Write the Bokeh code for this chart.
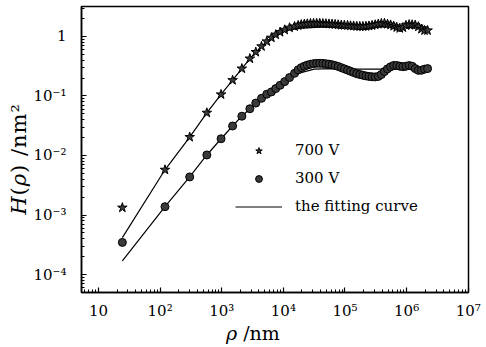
import math
from bokeh.plotting import figure
from bokeh.layouts import row, column
from bokeh.models import (Range1d, FixedTicker, CustomJSTickFormatter, Legend,
                          LegendItem, Div)
from bokeh.embed import file_html
from bokeh.resources import INLINE

# ---------------- data ----------------
rho = [24.4, 120, 302, 573, 975, 1500, 2120, 2860, 3570, 4420, 5380, 6400,
       7520, 8850, 10500, 12600, 15200,
       17400, 19500, 21900, 24500, 27500, 30900, 34700, 38900, 43700, 49000,
       55000, 61700, 69200, 77600, 87100, 97700, 110000, 123000, 138000,
       155000, 174000, 195000, 219000, 245000, 275000, 309000, 347000, 389000,
       437000, 490000, 550000, 617000, 692000, 776000, 871000, 977000,
       1100000, 1230000, 1380000, 1550000, 1740000, 1950000, 2190000]

h_700 = [1.33e-3, 5.75e-3, 0.0204, 0.0521, 0.106, 0.184, 0.288, 0.424, 0.546,
         0.681, 0.824, 0.951, 1.07, 1.18, 1.29, 1.40, 1.47,
         1.53, 1.58, 1.61, 1.63, 1.65, 1.66, 1.66, 1.66, 1.64, 1.63,
         1.62, 1.61, 1.59, 1.57, 1.55, 1.54, 1.53, 1.51, 1.50,
         1.48, 1.47, 1.47, 1.48, 1.50, 1.53, 1.57, 1.61, 1.65,
         1.66, 1.61, 1.56, 1.49, 1.42, 1.37, 1.41, 1.53,
         1.58, 1.57, 1.55, 1.46, 1.33, 1.26, 1.26]

h_300 = [3.47e-4, 1.38e-3, 4.37e-3, 0.0102, 0.0191, 0.0313, 0.0457, 0.061,
         0.0759, 0.0912, 0.107, 0.117, 0.133, 0.151, 0.174, 0.204, 0.240,
         0.275, 0.299, 0.316, 0.330, 0.341, 0.349, 0.353, 0.353, 0.352, 0.348,
         0.343, 0.335, 0.324, 0.313, 0.299, 0.285, 0.272, 0.260, 0.248,
         0.237, 0.229, 0.223, 0.217, 0.213, 0.210, 0.209, 0.213, 0.229,
         0.257, 0.285, 0.309, 0.325, 0.325, 0.316, 0.310, 0.316,
         0.324, 0.316, 0.288, 0.269, 0.270, 0.282, 0.288]

fit_rho_700 = [24.4, 120, 302, 573, 975, 1500, 2120, 2860, 3570, 4420, 5380,
               6400, 8850, 12600, 20000, 40000, 100000, 2190000]
fit_700 = [4.17e-4, 5.75e-3, 0.0204, 0.0521, 0.106, 0.184, 0.288, 0.424,
           0.546, 0.681, 0.824, 0.951, 1.15, 1.29, 1.38, 1.43, 1.45, 1.45]

fit_rho_300 = [24.4, 120, 302, 573, 975, 1500, 2120, 2860, 3570, 4420, 5380,
               6400, 8850, 12600, 17400, 31600, 60000, 160000, 2190000]
fit_300 = [1.70e-4, 1.38e-3, 4.37e-3, 0.0102, 0.0191, 0.0313, 0.0457, 0.061,
           0.0759, 0.0912, 0.107, 0.117, 0.151, 0.200, 0.240, 0.282, 0.288,
           0.282, 0.282]

x_ticks = [10, 100, 1e3, 1e4, 1e5, 1e6, 1e7]
x_tick_labels = ["10", "10²", "10³", "10⁴", "10⁵", "10⁶", "10⁷"]
y_ticks = [1e-4, 1e-3, 1e-2, 1e-1, 1]
y_tick_labels = ["10⁻⁴", "10⁻³", "10⁻²", "10⁻¹", "1"]
series_labels = ["700 V", "300 V", "the fitting curve"]
x_title_html = "<i>ρ</i> /nm"
y_title_html = "<i>H</i>(<i>ρ</i>) /nm²"

# ---------------- figure ----------------
FONT = "DejaVu Serif"
p = figure(width=456, height=322, x_axis_type="log", y_axis_type="log",
           x_range=Range1d(5.3, 1.01e7), y_range=Range1d(5.0e-5, 3.18),
           output_backend="svg", toolbar_location=None,
           min_border_left=49, min_border_right=18, min_border_top=6,
           min_border_bottom=29)
p.xgrid.visible = False
p.ygrid.visible = False
p.outline_line_color = "black"
p.outline_line_width = 1.5
p.outline_line_alpha = 1.0
p.background_fill_color = "white"

p.xaxis.ticker = FixedTicker(ticks=x_ticks,
                             minor_ticks=[m * 10 ** e for e in range(0, 7) for m in range(2, 10)])
p.yaxis.ticker = FixedTicker(ticks=y_ticks,
                             minor_ticks=[m * 10.0 ** e for e in range(-5, 1) for m in range(2, 10)])
fmt_code = """
const i = tvals.findIndex(t => Math.abs(Math.log10(t) - Math.log10(tick)) < 1e-6);
return i >= 0 ? tlabels[i] : "";
"""
p.xaxis.formatter = CustomJSTickFormatter(args=dict(tvals=x_ticks, tlabels=x_tick_labels), code=fmt_code)
p.yaxis.formatter = CustomJSTickFormatter(args=dict(tvals=y_ticks, tlabels=y_tick_labels), code=fmt_code)

for ax in (p.xaxis, p.yaxis):
    ax.major_tick_in = 5
    ax.major_tick_out = 0
    ax.minor_tick_in = 3
    ax.minor_tick_out = 0
    ax.axis_line_width = 1.5
    ax.axis_line_color = "black"
    ax.major_tick_line_width = 1.2
    ax.major_tick_line_color = "black"
    ax.minor_tick_line_width = 1
    ax.minor_tick_line_color = "black"
    ax.major_label_text_font = FONT
    ax.major_label_text_font_size = "15px"
    ax.major_label_text_color = "black"
p.xaxis.major_label_standoff = 9
p.yaxis.major_label_standoff = 15

# ---------------- glyphs ----------------
l1 = p.line(fit_rho_700, fit_700, line_color="black", line_width=1.2)
l2 = p.line(fit_rho_300, fit_300, line_color="black", line_width=1.2)
s1 = p.scatter(rho, h_700, marker="star", size=10, fill_color="#3a3a3a",
               line_color="black", line_width=1)
s2 = p.scatter(rho, h_300, marker="circle", size=8, fill_color="#3a3a3a",
               line_color="black", line_width=1)

legend = Legend(items=[LegendItem(label=series_labels[0], renderers=[s1]),
                       LegendItem(label=series_labels[1], renderers=[s2]),
                       LegendItem(label=series_labels[2], renderers=[l1])],
                location=(154, 76), border_line_color=None,
                background_fill_alpha=0, padding=0, margin=0, spacing=8,
                glyph_width=47, glyph_height=17, label_height=20,
                label_standoff=13, label_text_font=FONT,
                label_text_font_size="15px", label_text_color="black")
p.add_layout(legend)

# ---------------- axis titles (HTML text, mixed italic) ----------------
div_y = Div(width=30, height=322, margin=0, text=(
    '<div style="position:relative;width:30px;height:322px;'
    'font-family:\'DejaVu Serif\',serif;font-size:21px;color:black;">'
    '<span style="position:absolute;left:19px;top:159px;line-height:22px;'
    'white-space:nowrap;letter-spacing:1px;'
    'transform:translate(-50%,-50%) rotate(-90deg);">'
    + y_title_html + '</span></div>'))
div_x = Div(width=486, height=25, margin=0, text=(
    '<div style="position:relative;width:486px;height:25px;'
    'font-family:\'DejaVu Serif\',serif;font-size:19px;color:black;">'
    '<span style="position:absolute;left:226px;top:0px;line-height:22px;'
    'white-space:nowrap;">' + x_title_html + '</span></div>'))

layout = column(row(div_y, p, spacing=0), div_x, spacing=0)

open("out.html", "w").write(file_html(layout, INLINE))
